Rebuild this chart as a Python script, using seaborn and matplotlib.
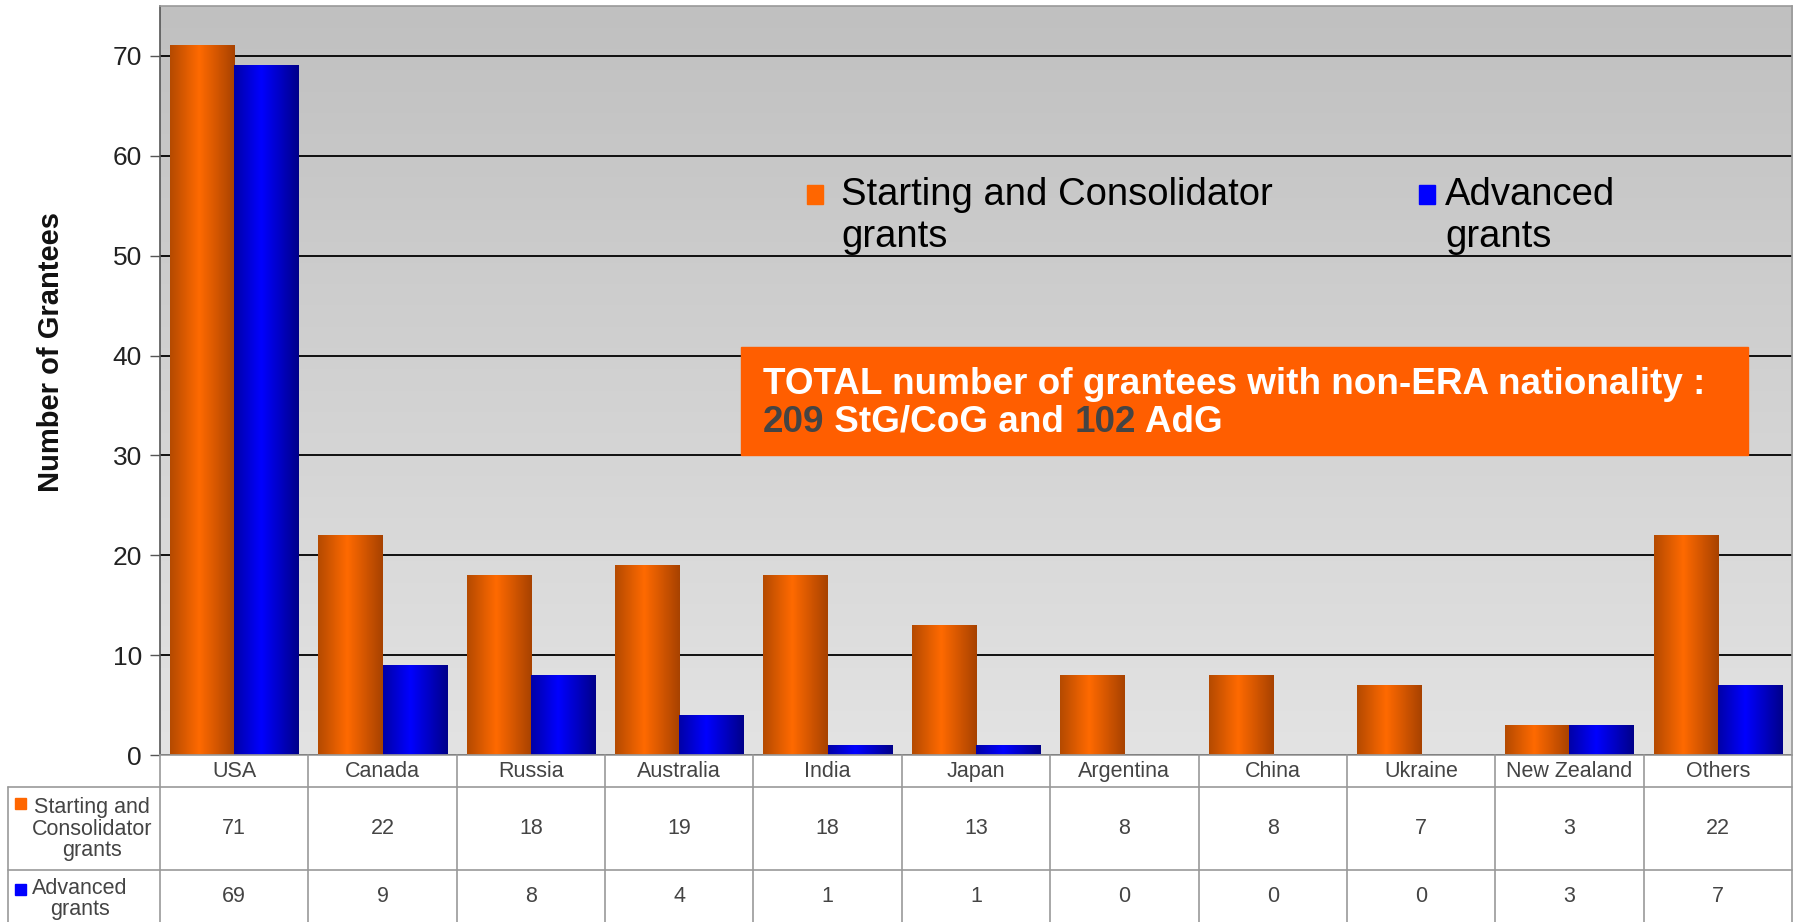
import numpy as np
import pandas as pd
import matplotlib
matplotlib.use("Agg")
import matplotlib.pyplot as plt
import seaborn as sns
from matplotlib.colors import LinearSegmentedColormap
from matplotlib.patches import Rectangle
from matplotlib.text import Annotation

countries = ["USA", "Canada", "Russia", "Australia", "India", "Japan",
             "Argentina", "China", "Ukraine", "New Zealand", "Others"]
stg_cog = [71, 22, 18, 19, 18, 13, 8, 8, 7, 3, 22]
adg = [69, 9, 8, 4, 1, 1, 0, 0, 0, 3, 7]
series = ["Starting and Consolidator grants", "Advanced grants"]
legend_labels = ["Starting and Consolidator\ngrants", "Advanced\ngrants"]
row_labels = ["Starting and\nConsolidator\ngrants", "Advanced\ngrants"]
y_ticks = [0, 10, 20, 30, 40, 50, 60, 70]
total_stg, total_adg = 209, 102

ORANGE, BLUE = "#ff6600", "#0000ff"
W, H = 1794, 922


def fx(px):
    return px / W


def fy(py):
    return 1 - py / H


sns.set_theme(style="white")
plt.rcParams["font.family"] = ["Liberation Sans", "DejaVu Sans"]

df = pd.DataFrame({
    "country": countries * 2,
    "grant": [series[0]] * len(countries) + [series[1]] * len(countries),
    "n": stg_cog + adg,
})

fig = plt.figure(figsize=(W / 100, H / 100), dpi=100)
ax = fig.add_axes([fx(160), fy(755), fx(1792) - fx(160), fy(6) - fy(755)])

# gray gradient plot background
bg = LinearSegmentedColormap.from_list("bg", ["#c0c0c0", "#e3e3e3"])
ax.imshow(np.linspace(0, 1, 256).reshape(-1, 1), cmap=bg,
          extent=[-0.5, 10.5, 0, 75], aspect="auto", zorder=0)

sns.barplot(data=df, x="country", y="n", hue="grant", palette=[ORANGE, BLUE],
            width=0.865, saturation=1, legend=False, ax=ax, linewidth=0)

# cylinder-like shading on each bar
shades = [
    LinearSegmentedColormap.from_list("o", [(0, "#b54a00"), (0.45, "#ff6a00"), (1, "#a84200")]),
    LinearSegmentedColormap.from_list("b", [(0, "#0000a8"), (0.42, "#0000ff"), (1, "#00008a")]),
]
for container, cmap in zip(ax.containers, shades):
    for bar in container:
        h = bar.get_height()
        if h <= 0:
            continue
        x0, w = bar.get_x(), bar.get_width()
        ax.imshow(np.linspace(0, 1, 64).reshape(1, -1), cmap=cmap,
                  extent=[x0, x0 + w, 0, h], aspect="auto", zorder=2)

ax.set_xlim(-0.5, 10.5)
ax.set_ylim(0, 75)
ax.set_yticks(y_ticks)
ax.set_xticks([])
ax.set_xlabel("")
ax.set_ylabel("")
ax.set_axisbelow(True)
ax.grid(axis="y", color="black", linewidth=1.3)
ax.tick_params(axis="y", left=True, length=7, width=1, color="#555555",
               labelsize=19, labelcolor="#222222", pad=6)
for side, sp in ax.spines.items():
    sp.set_color("#555555" if side == "left" else "#999999")
    sp.set_linewidth(1.2)

fig.text(fx(51), fy(352), "Number of Grantees", rotation=90, ha="center",
         va="center", fontsize=21, fontweight="bold", color="#111111")

# legend inside the plot
for (sx, tx), col, lab in zip([(807, 841), (1419, 1445)], [ORANGE, BLUE], legend_labels):
    fig.add_artist(Rectangle((fx(sx), fy(204)), fx(16), fy(0) - fy(19),
                             transform=fig.transFigure, color=col))
    fig.text(fx(tx), fy(177), lab, ha="left", va="top", fontsize=27.5,
             color="#000000", linespacing=1.2)

# orange annotation box
fig.add_artist(Rectangle((fx(741), fy(455)), fx(1748) - fx(741), fy(347) - fy(455),
                         transform=fig.transFigure, color="#ff5e00", zorder=5))
box_kw = dict(fontsize=26.6, fontweight="bold", zorder=6, va="center", ha="left")
fig.text(fx(763), fy(384), "TOTAL number of grantees with non-ERA nationality :",
         color="white", **box_kw)
prev = fig.text(fx(763), fy(422), str(total_stg), color="#444444", **box_kw)
for part, col in [(" StG/CoG and ", "white"), (str(total_adg), "#444444"), (" AdG", "white")]:
    prev = fig.add_artist(Annotation(part, xy=(1, 0.5), xycoords=prev,
                                     color=col, annotation_clip=False, **box_kw))

# data table below the chart
tax = fig.add_axes([fx(160), 0, fx(1792) - fx(160), fy(755)])
tax.set_xlim(-0.5, 10.5)
tax.set_ylim(0, 1)
tax.axis("off")
y_hdr, y_row = (922 - 787) / 167, (922 - 870) / 167
x_left = -0.5 - (160 - 8) / ((1792 - 160) / 11)
line_kw = dict(color="#999999", linewidth=1.2, clip_on=False)
for k in range(len(countries) + 1):
    tax.plot([k - 0.5, k - 0.5], [0, 1], **line_kw)
tax.plot([x_left, x_left], [0, y_hdr], **line_kw)
for yy in (y_hdr, y_row):
    tax.plot([x_left, 10.5], [yy, yy], **line_kw)

txt_kw = dict(ha="center", va="center", color="#444444", fontsize=15.5)
for i, c in enumerate(countries):
    tax.text(i, (1 + y_hdr) / 2, c, **txt_kw)
    tax.text(i, (y_hdr + y_row) / 2, str(stg_cog[i]), **txt_kw)
    tax.text(i, y_row / 2, str(adg[i]), **txt_kw)

fig.text(fx(92), fy(829), row_labels[0], ha="center", va="center",
         color="#444444", fontsize=15.5, linespacing=1.05)
fig.add_artist(Rectangle((fx(15), fy(809)), fx(11), fy(0) - fy(11),
                         transform=fig.transFigure, color=ORANGE))
fig.text(fx(80), fy(899), row_labels[1], ha="center", va="center",
         color="#444444", fontsize=15.5, linespacing=0.95)
fig.add_artist(Rectangle((fx(15), fy(895)), fx(11), fy(0) - fy(11),
                         transform=fig.transFigure, color=BLUE))

fig.savefig("out.png", dpi=100, facecolor="white")
